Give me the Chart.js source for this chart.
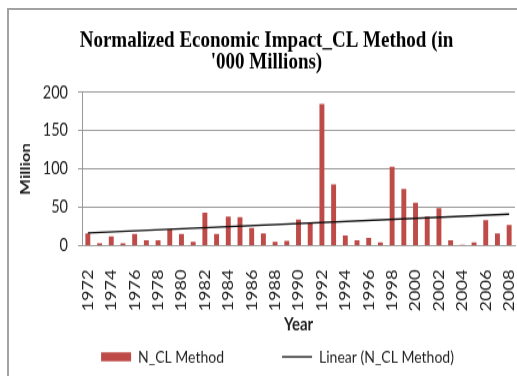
<!DOCTYPE html>
<html>
<head>
<meta charset="utf-8">
<script src="https://cdn.jsdelivr.net/npm/chart.js@4/dist/chart.umd.min.js"></script>
<style>
  html, body { margin: 0; padding: 0; background: #fff; }
  body { width: 517px; height: 376px; overflow: hidden; position: relative; }
  #frame { position: absolute; left: 7px; top: 8px; width: 600px; height: 500px;
           border: 2px solid #a2a2a2; box-sizing: border-box; }
  #stage { position: absolute; left: 0; top: 0; width: 517px; height: 313px;
           transform: scaleY(1.2013); transform-origin: 0 0; }
</style>
</head>
<body>
<div id="frame"></div>
<div id="stage"><canvas id="chart"></canvas></div>
<script>
// Years on the category axis
const years = ['1972','1973','1974','1975','1976','1977','1978','1979','1980','1981',
               '1982','1983','1984','1985','1986','1987','1988','1989','1990','1991',
               '1992','1993','1994','1995','1996','1997','1998','1999','2000','2001',
               '2002','2003','2004','2005','2006','2007','2008'];

// Year labels printed under the axis
const tickYears = ['1972','1974','1976','1978','1980','1982','1984','1986','1988','1990',
                   '1992','1994','1996','1998','2000','2002','2004','2006','2008'];

// Normalized economic impact (CL method), million
const impact = [16, 3, 12, 3, 15, 7, 7, 21, 15, 5,
                43, 15, 38, 37, 23, 16, 5, 6, 34, 30,
                185, 80, 13, 7, 10, 4, 103, 74, 56, 38,
                49, 7, 1, 4, 33, 16, 27];

// Linear trend end points
const trendYears = ['1972', '2008'];
const trendValues = [16.5, 41];

// Value axis ticks
const yTicks = [0, 50, 100, 150, 200];

const sans = "Lato, 'Open Sans', 'DejaVu Sans', sans-serif";
const serif = "'Liberation Serif', 'Times New Roman', serif";
const ink = '#1f1f1f';
const gridGray = '#999999';
const barRed = '#BE4B48';

// Shifts the title and legend blocks sideways and centres the legend row in its box
const nudgeBoxes = {
  id: 'nudgeBoxes',
  afterLayout(chart, args, opts) {
    const t = chart.titleBlock;
    if (t) { t.left += opts.titleX; t.right += opts.titleX; }
    const lg = chart.legend;
    if (lg) {
      const pad = lg.options.labels.padding;
      const fontSize = lg.options.labels.font.size;
      const mid = (lg.top + lg.bottom) / 2;
      lg.top = mid - fontSize / 2 - pad;
      lg.bottom = mid + fontSize;
      lg.left += opts.legendX; lg.right += opts.legendX;
    }
  }
};

new Chart(document.getElementById('chart'), {
  data: {
    labels: years,
    datasets: [
      {
        type: 'bar',
        label: 'N_CL Method',
        data: impact,
        backgroundColor: barRed,
        borderWidth: 0,
        categoryPercentage: 1,
        barPercentage: 0.42,
        order: 1
      },
      {
        type: 'line',
        label: 'Linear (N_CL Method)',
        data: trendYears.map((yr, i) => ({ x: yr, y: trendValues[i] })),
        borderColor: '#111111',
        borderWidth: 1.3,
        pointRadius: 0,
        fill: false,
        tension: 0,
        order: 0
      }
    ]
  },
  options: {
    responsive: true,
    maintainAspectRatio: false,
    animation: false,
    devicePixelRatio: 1,
    layout: { padding: { left: 0, right: 2, top: 0, bottom: 0 } },
    plugins: {
      tooltip: { enabled: false },
      nudgeBoxes: { titleX: 9, legendX: 20 },
      title: {
        display: true,
        text: ['Normalized Economic Impact_CL Method (in', "'000 Millions)"],
        color: '#000',
        font: { family: serif, size: 19, weight: 'bold', lineHeight: 0.97 },
        padding: { top: 24.5, bottom: 15.5 }
      },
      legend: {
        position: 'bottom',
        maxHeight: 32,
        labels: {
          usePointStyle: true,
          pointStyleWidth: 30,
          boxHeight: 7.5,
          padding: 58,
          color: ink,
          font: { family: sans, size: 14 },
          generateLabels(chart) {
            return chart.data.datasets.map((ds, i) => ({
              text: ds.label,
              datasetIndex: i,
              fontColor: ink,
              fillStyle: ds.type === 'line' ? 'rgba(0,0,0,0)' : ds.backgroundColor,
              strokeStyle: ds.type === 'line' ? ds.borderColor : ds.backgroundColor,
              lineWidth: ds.type === 'line' ? 1.3 : 0,
              pointStyle: ds.type === 'line' ? 'line' : 'rect',
              hidden: false
            }));
          }
        }
      }
    },
    scales: {
      x: {
        type: 'category',
        offset: true,
        grid: { display: false },
        border: { color: gridGray, width: 1 },
        ticks: {
          autoSkip: false,
          minRotation: 90,
          maxRotation: 90,
          padding: 12,
          color: ink,
          font: { family: sans, size: 15 },
          callback(value, index) {
            const yr = years[index];
            return tickYears.includes(yr) ? yr : '';
          }
        },
        title: {
          display: true,
          text: 'Year',
          color: ink,
          font: { family: sans, size: 15, weight: 'bold' },
          padding: { top: 10, bottom: 2 }
        },
        afterFit(scale) {
          scale.height = 76.6;
          scale.paddingLeft = 0;
          scale.paddingRight = 0;
        }
      },
      y: {
        min: 0,
        max: 200,
        afterBuildTicks(scale) {
          scale.ticks = yTicks.map(v => ({ value: v }));
        },
        grid: { color: gridGray, lineWidth: 1, tickLength: 4 },
        border: { color: gridGray, width: 1 },
        ticks: {
          padding: 10,
          color: ink,
          font: { family: sans, size: 14.5 }
        },
        title: {
          display: true,
          text: 'Million',
          color: ink,
          font: { family: sans, size: 14, weight: 'bold' },
          padding: { top: 16.6, bottom: 10 }
        },
        afterFit(scale) {
          scale.width = 82;
        }
      }
    }
  },
  plugins: [nudgeBoxes]
});
</script>
</body>
</html>
